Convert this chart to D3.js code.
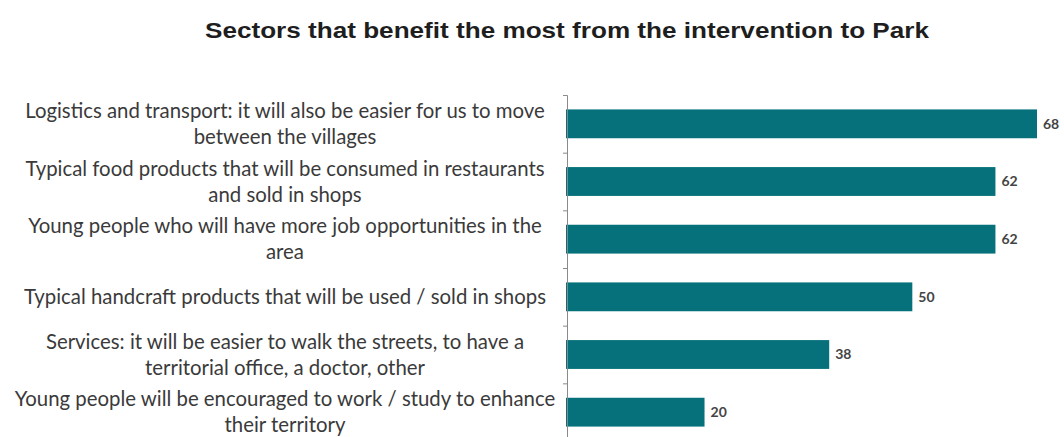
<!DOCTYPE html>
<html>
<head>
<meta charset="utf-8">
<script src="https://cdn.jsdelivr.net/npm/d3@7"></script>
<style>
html,body{margin:0;padding:0;background:#fff;}
svg{display:block;}
</style>
</head>
<body>
<svg id="chart" width="1064" height="437"></svg>
<script>
const title = "Sectors that benefit the most from the intervention to Park";
const categories = [
  ["Logistics and transport: it will also be easier for us to move", "between the villages"],
  ["Typical food products that will be consumed in restaurants", "and sold in shops"],
  ["Young people who will have more job opportunities in the", "area"],
  ["Typical handcraft products that will be used / sold in shops"],
  ["Services: it will be easier to walk the streets, to have a", "territorial office, a doctor, other"],
  ["Young people will be encouraged to work / study to enhance", "their territory"]
];
const values = [68, 62, 62, 50, 38, 20];

const svg = d3.select("#chart");
const ids = categories.map((c, i) => i);

const x = d3.scaleLinear().domain([0, 68]).range([566, 1037]);
const y = d3.scaleBand().domain(ids).range([95, 441]).paddingInner(0.5).paddingOuter(0.25);

// Title
svg.append("text")
  .attr("x", 567).attr("y", 38)
  .attr("text-anchor", "middle")
  .attr("font-family", "'Liberation Sans Narrow', 'Liberation Sans', Arial, sans-serif")
  .attr("font-weight", "bold")
  .attr("font-size", 22)
  .attr("fill", "#1e1e1e")
  .attr("textLength", 724)
  .attr("lengthAdjust", "spacingAndGlyphs")
  .text(title);

// Bars
svg.append("g").selectAll("rect")
  .data(values)
  .join("rect")
  .attr("x", x(0))
  .attr("y", (d, i) => y(i))
  .attr("width", d => x(d) - x(0))
  .attr("height", y.bandwidth())
  .attr("fill", "#06717a");

// Value labels
svg.append("g").selectAll("text")
  .data(values)
  .join("text")
  .attr("x", d => x(d) + 6)
  .attr("y", (d, i) => y(i) + y.bandwidth() / 2)
  .attr("dy", "0.35em")
  .attr("font-family", "Lato, sans-serif")
  .attr("font-weight", "bold")
  .attr("font-size", 14)
  .attr("fill", "#444")
  .text(d => d);

// Axis
const step = y.step();
const axisScale = d3.scaleLinear().domain([0, 6]).range([95, 95 + 6 * step]);
const axis = d3.axisLeft(axisScale).ticks(6).tickSize(4).tickFormat("");
const ag = svg.append("g").attr("transform", `translate(${x(0) + 1},0)`).call(axis);
ag.select(".domain").attr("stroke", "#8a8a8a");
ag.selectAll(".tick line").attr("stroke", "#8a8a8a");

// Category labels
const labelCenter = 285;
const lineH = 26;
const lg = svg.append("g");
const texts = [];
categories.forEach((lines, i) => {
  const cy = y(i) + y.bandwidth() / 2;
  const t = lg.append("text")
    .attr("text-anchor", "middle")
    .attr("font-family", "Lato, sans-serif")
    .attr("font-size", 16)
    .attr("fill", "#3a3a3a");
  const n = lines.length;
  lines.forEach((ln, j) => {
    t.append("tspan")
      .attr("x", labelCenter)
      .attr("y", cy + (j - (n - 1) / 2) * lineH)
      .attr("dy", "0.35em")
      .text(ln);
  });
  texts.push(t);
});
// fit font size so the longest first line spans ~520px
const w0 = texts[0].select("tspan").node().getComputedTextLength();
const fs = 16 * 520 / w0;
lg.selectAll("text").attr("font-size", fs);
</script>
</body>
</html>
